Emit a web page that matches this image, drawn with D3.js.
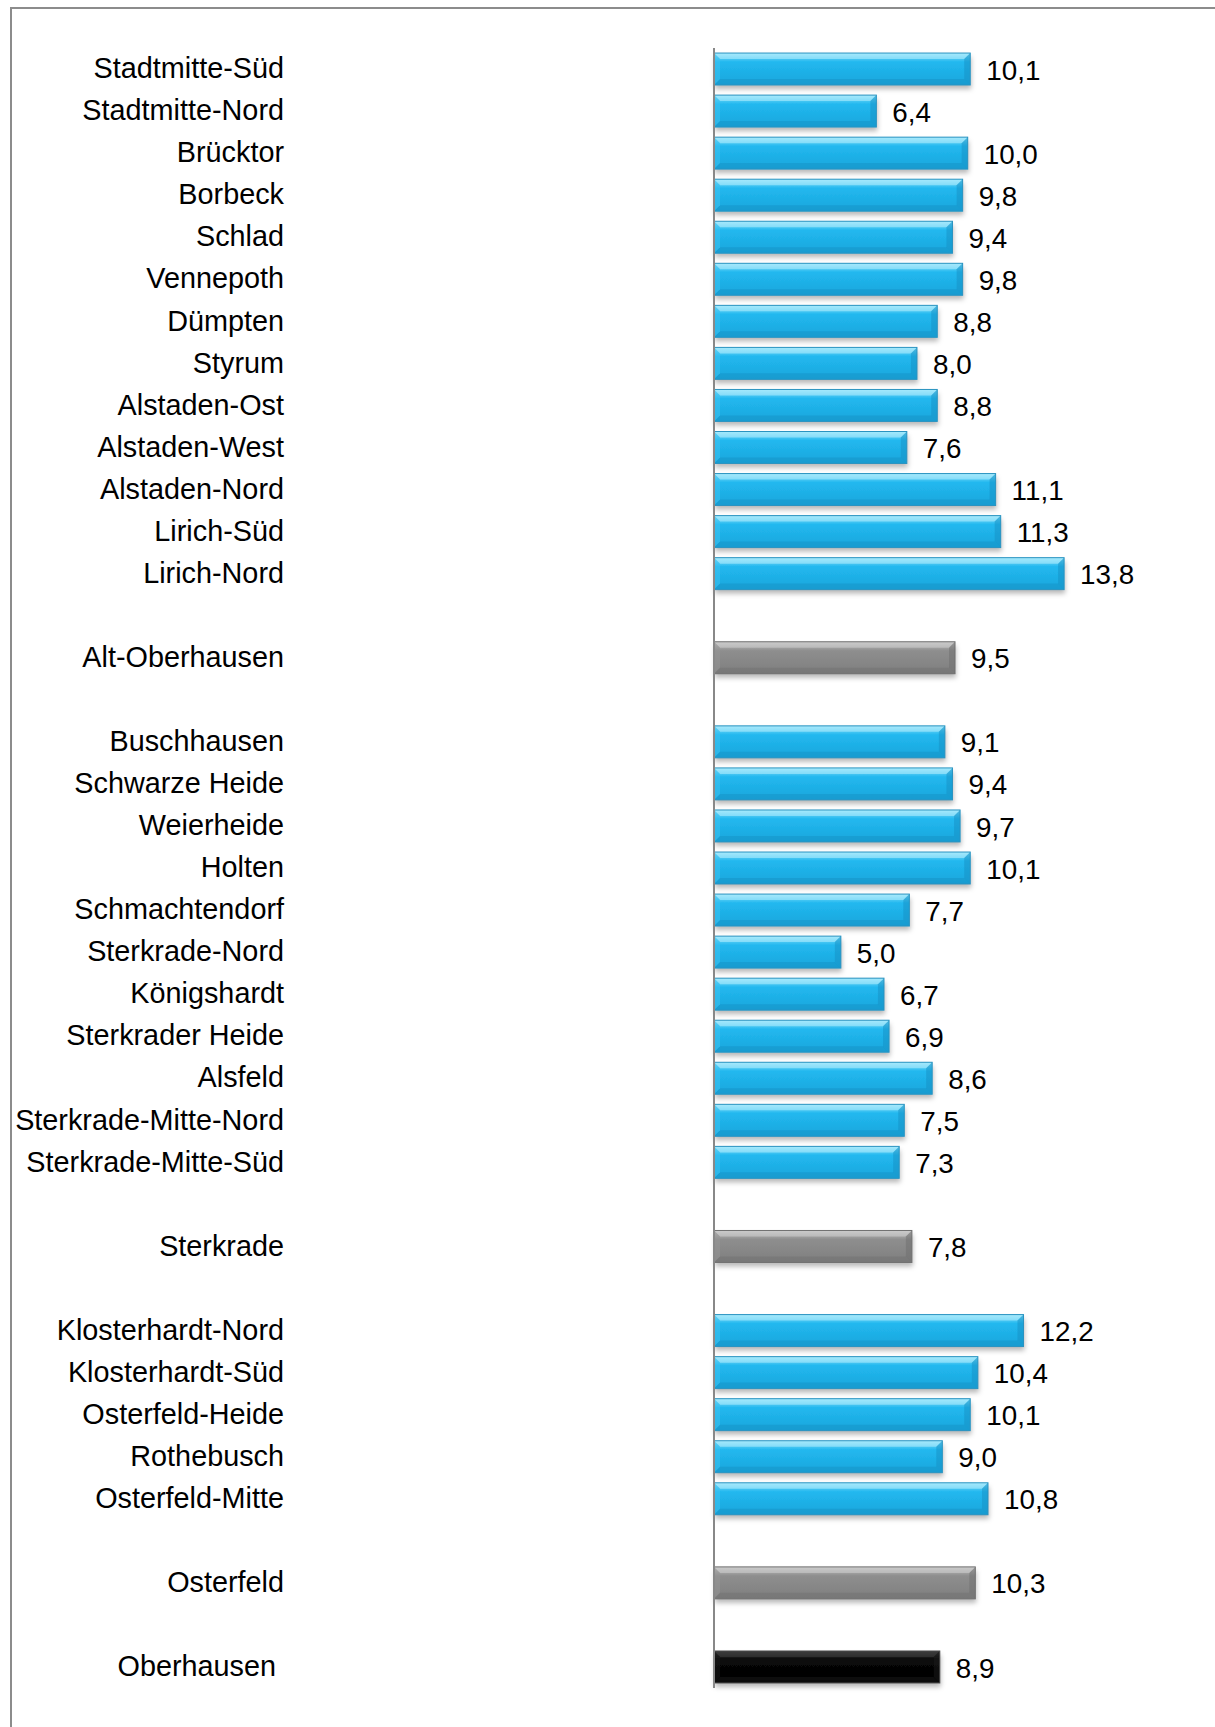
<!DOCTYPE html>
<html><head><meta charset="utf-8">
<script src="https://cdn.jsdelivr.net/npm/d3@7"></script>
<style>html,body{margin:0;padding:0;background:#fff;}svg{display:block;}</style>
</head><body>
<svg id="chart" width="1215" height="1727"></svg>
<script>
// Rows in display order; "" marks an empty spacer row
const categories = [
  "Stadtmitte-Süd","Stadtmitte-Nord","Brücktor","Borbeck","Schlad","Vennepoth","Dümpten","Styrum",
  "Alstaden-Ost","Alstaden-West","Alstaden-Nord","Lirich-Süd","Lirich-Nord","",
  "Alt-Oberhausen","",
  "Buschhausen","Schwarze Heide","Weierheide","Holten","Schmachtendorf","Sterkrade-Nord","Königshardt",
  "Sterkrader Heide","Alsfeld","Sterkrade-Mitte-Nord","Sterkrade-Mitte-Süd","",
  "Sterkrade","",
  "Klosterhardt-Nord","Klosterhardt-Süd","Osterfeld-Heide","Rothebusch","Osterfeld-Mitte","",
  "Osterfeld","",
  "Oberhausen"
];
const values = [
  10.1,6.4,10.0,9.8,9.4,9.8,8.8,8.0,8.8,7.6,11.1,11.3,13.8,null,
  9.5,null,
  9.1,9.4,9.7,10.1,7.7,5.0,6.7,6.9,8.6,7.5,7.3,null,
  7.8,null,
  12.2,10.4,10.1,9.0,10.8,null,
  10.3,null,
  8.9
];
// level: 0 = district part, 1 = district, 2 = city
const levels = [
  0,0,0,0,0,0,0,0,0,0,0,0,0,null,
  1,null,
  0,0,0,0,0,0,0,0,0,0,0,null,
  1,null,
  0,0,0,0,0,null,
  1,null,
  2
];

const rows = categories.map((c,i)=>({key:"r"+i, label:c, value:values[i], level:levels[i]}));

const svg = d3.select("#chart");
const W = 1215, H = 1727;

// frame
svg.append("rect").attr("x",11).attr("y",8).attr("width",W+20).attr("height",H+20)
  .attr("fill","none").attr("stroke","#8c8c8c").attr("stroke-width",2);

const x = d3.scaleLinear().domain([0,14]).range([714, 714+14*25.37]);
const y = d3.scaleBand().domain(rows.map(d=>d.key)).range([48,1688]).paddingInner(0.24).paddingOuter(0.12);

const defs = svg.append("defs");
const palettes = [
  {name:"blue", top:"#8fe2fb", mid:"#22b8ef", bot:"#1aa6dc", stroke:"#2a93c0", hl:"#b8eefd", dk:"#1590c4", side:"#3cc4f2"},
  {name:"gray", top:"#c4c4c4", mid:"#8e8e8e", bot:"#7f7f7f", stroke:"#707070", hl:"#d0d0d0", dk:"#6e6e6e", side:"#959595"},
  {name:"black", top:"#333333", mid:"#080808", bot:"#020202", stroke:"#4a4a4a", hl:"#444444", dk:"#1c1c1c", side:"#1a1a1a"}
];
palettes.forEach(p=>{
  const g = defs.append("linearGradient").attr("id","g-"+p.name).attr("x1",0).attr("y1",0).attr("x2",0).attr("y2",1);
  g.append("stop").attr("offset","0%").attr("stop-color",p.top);
  g.append("stop").attr("offset","28%").attr("stop-color",p.mid);
  g.append("stop").attr("offset","100%").attr("stop-color",p.bot);
});
const f = defs.append("filter").attr("id","shadow").attr("x","-5%").attr("y","-20%").attr("width","110%").attr("height","160%");
f.append("feDropShadow").attr("dx",1).attr("dy",4).attr("stdDeviation",2.5).attr("flood-color","#000").attr("flood-opacity",0.28);

const data = rows.filter(d=>d.value!=null);
const bev = 6;
const bars = svg.append("g").selectAll("g").data(data).join("g");
bars.each(function(d){
  const g = d3.select(this);
  const p = palettes[d.level];
  const x0 = x(0), x1 = x(d.value), y0 = y(d.key), h = y.bandwidth(), y1 = y0+h;
  g.append("rect").attr("x",x0).attr("y",y0).attr("width",x1-x0).attr("height",h)
    .attr("fill","url(#g-"+p.name+")").attr("filter","url(#shadow)");
  // bevel facets
  g.append("path").attr("d",`M${x0},${y0}L${x1},${y0}L${x1-bev},${y0+bev}L${x0+bev},${y0+bev}Z`).attr("fill",p.hl).attr("opacity",0.55);
  g.append("path").attr("d",`M${x0},${y1}L${x1},${y1}L${x1-bev},${y1-bev}L${x0+bev},${y1-bev}Z`).attr("fill",p.dk).attr("opacity",0.45);
  g.append("path").attr("d",`M${x1},${y0}L${x1},${y1}L${x1-bev},${y1-bev}L${x1-bev},${y0+bev}Z`).attr("fill",p.dk).attr("opacity",0.5);
  g.append("path").attr("d",`M${x0},${y0}L${x0},${y1}L${x0+bev},${y1-bev}L${x0+bev},${y0+bev}Z`).attr("fill",p.side).attr("opacity",0.5);
  g.append("rect").attr("x",x0).attr("y",y0).attr("width",x1-x0).attr("height",h)
    .attr("fill","none").attr("stroke",p.stroke).attr("stroke-width",1);
});

// axis line
svg.append("line").attr("x1",x(0)).attr("x2",x(0)).attr("y1",48).attr("y2",1688)
  .attr("stroke","#888").attr("stroke-width",2);

// category labels
svg.append("g").selectAll("text").data(rows.filter(d=>d.label!=="")).join("text")
  .attr("x",d=>d.level===2 ? 276 : 284).attr("y",d=>y(d.key)+y.bandwidth()/2).attr("dy","0.32em")
  .attr("text-anchor","end").attr("font-family","'Liberation Sans', Arial, sans-serif")
  .attr("font-size",28.8).attr("fill","#000").text(d=>d.label);

// value labels
const fmt = v => v.toFixed(1).replace(".",",");
svg.append("g").selectAll("text").data(data).join("text")
  .attr("x",d=>x(d.value)+16).attr("y",d=>y(d.key)+y.bandwidth()/2).attr("dy","0.38em")
  .attr("font-family","'Liberation Sans', Arial, sans-serif")
  .attr("font-size",27.8).attr("fill","#000").text(d=>fmt(d.value));
</script>
</body></html>
